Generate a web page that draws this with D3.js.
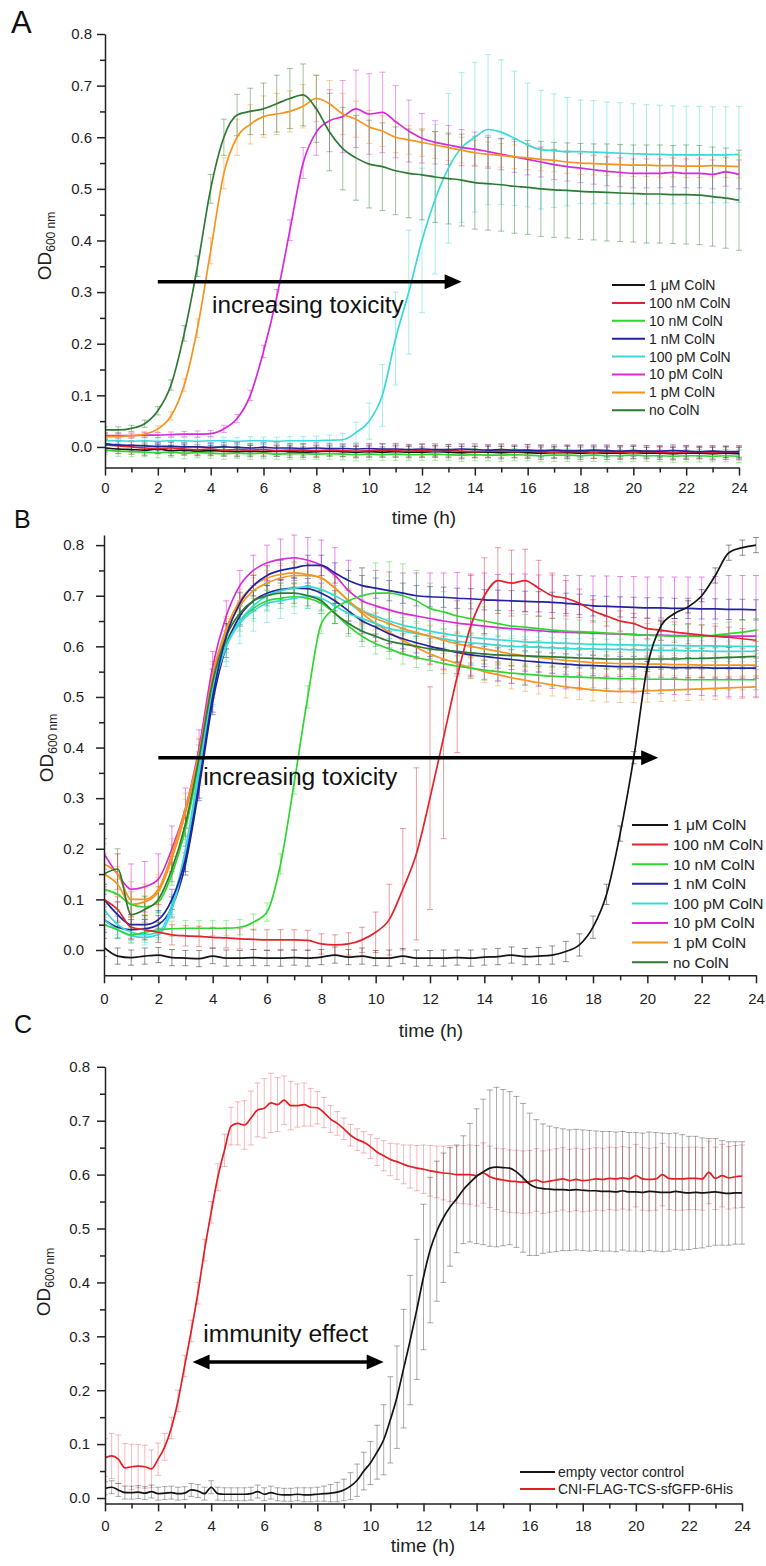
<!DOCTYPE html>
<html><head><meta charset="utf-8">
<script src="https://cdn.jsdelivr.net/npm/d3@7"></script>
<style>
body{margin:0;background:#fff}
svg{display:block;font-family:"Liberation Sans",Arial,Helvetica,sans-serif}
</style>
</head><body>
<svg id="c" width="766" height="1566"></svg>
<script>
// ---------------- DATA ----------------
const timeAB = [0,0.5,1,1.5,2,2.5,3,3.5,4,4.5,5,5.5,6,6.5,7,7.5,8,8.5,9,9.5,10,10.5,11,11.5,12,12.5,13,13.5,14,14.5,15,15.5,16,16.5,17,17.5,18,18.5,19,19.5,20,20.5,21,21.5,22,22.5,23,23.5,24];
const timeC = [0,0.25,0.5,0.75,1,1.25,1.5,1.75, 2,2.25,2.5,2.75,3,3.25,3.5,3.75, 4,4.25,4.5,4.75,5,5.25,5.5,5.75, 6,6.25,6.5,6.75,7,7.25,7.5,7.75, 8,8.25,8.5,8.75,9,9.25,9.5,9.75, 10,10.25,10.5,10.75,11,11.25,11.5,11.75, 12,12.25,12.5,12.75,13,13.25,13.5,13.75, 14,14.25,14.5,14.75,15,15.25,15.5,15.75, 16,16.25,16.5,16.75,17,17.25,17.5,17.75, 18,18.25,18.5,18.75,19,19.25,19.5,19.75, 20,20.25,20.5,20.75,21,21.25,21.5,21.75, 22,22.25,22.5,22.75,23,23.25,23.5,23.75, 24];

const colnLabels = ["1 \u03bcM ColN","100 nM ColN","10 nM ColN","1 nM ColN","100 pM ColN","10 pM ColN","1 pM ColN","no ColN"];
const panelCLabels = ["empty vector control","CNI-FLAG-TCS-sfGFP-6His"];
const xTicks = [0,2,4,6,8,10,12,14,16,18,20,22,24];
const xMinorTicks = [1,3,5,7,9,11,13,15,17,19,21,23];
const yTicks = [0,0.1,0.2,0.3,0.4,0.5,0.6,0.7,0.8];
const yMinorTicks = [0.05,0.15,0.25,0.35,0.45,0.55,0.65,0.75];

// ---- Panel A (means / sd) ----
const A_1uM = [-0.002,-0.004,-0.005,-0.006,-0.004,-0.007,-0.006,-0.008,-0.007,-0.008,
 -0.009,-0.008,-0.009,-0.008,-0.009,-0.010,-0.009,-0.008,-0.009,-0.010,
 -0.009,-0.010,-0.009,-0.010,-0.010,-0.009,-0.010,-0.011,-0.010,-0.010,
 -0.011,-0.010,-0.011,-0.012,-0.011,-0.011,-0.012,-0.011,-0.012,-0.012,
 -0.011,-0.012,-0.012,-0.013,-0.012,-0.012,-0.013,-0.012,-0.013];
const A_1uM_sd = [0.008,0.009,0.009,0.010,0.009,0.010,0.010,0.009,0.010,0.010,
 0.010,0.011,0.010,0.010,0.011,0.010,0.011,0.010,0.010,0.011,
 0.011,0.010,0.011,0.011,0.010,0.011,0.011,0.012,0.011,0.011,
 0.012,0.011,0.011,0.012,0.011,0.012,0.012,0.011,0.012,0.012,
 0.012,0.011,0.012,0.012,0.012,0.011,0.012,0.012,0.012];
const A_100nM = [0.004,0.002,0.000,-0.002,-0.003,-0.002,-0.004,-0.005,-0.004,-0.006,
 -0.005,-0.006,-0.005,-0.007,-0.006,-0.006,-0.007,-0.006,-0.007,-0.008,
 -0.007,-0.006,-0.007,-0.008,-0.007,-0.008,-0.007,-0.008,-0.009,-0.008,
 -0.008,-0.009,-0.008,-0.009,-0.010,-0.009,-0.009,-0.010,-0.009,-0.010,
 -0.010,-0.009,-0.010,-0.011,-0.010,-0.010,-0.011,-0.010,-0.010];
const A_100nM_sd = [0.009,0.009,0.010,0.010,0.010,0.011,0.010,0.010,0.011,0.010,
 0.011,0.010,0.011,0.011,0.010,0.011,0.011,0.010,0.011,0.011,
 0.011,0.012,0.011,0.011,0.012,0.011,0.011,0.012,0.011,0.012,
 0.012,0.011,0.012,0.012,0.011,0.012,0.012,0.012,0.011,0.012,
 0.012,0.012,0.011,0.012,0.012,0.012,0.012,0.011,0.012];
const A_10nM = [-0.006,-0.008,-0.009,-0.010,-0.011,-0.010,-0.012,-0.011,-0.012,-0.013,
 -0.012,-0.013,-0.012,-0.014,-0.013,-0.013,-0.014,-0.013,-0.014,-0.015,
 -0.014,-0.015,-0.014,-0.015,-0.015,-0.014,-0.015,-0.016,-0.015,-0.016,
 -0.016,-0.015,-0.016,-0.017,-0.016,-0.016,-0.017,-0.016,-0.017,-0.017,
 -0.016,-0.017,-0.017,-0.018,-0.017,-0.017,-0.018,-0.017,-0.018];
const A_10nM_sd = [0.009,0.010,0.010,0.009,0.010,0.010,0.011,0.010,0.010,0.011,
 0.010,0.011,0.011,0.010,0.011,0.011,0.010,0.011,0.011,0.012,
 0.011,0.011,0.012,0.011,0.011,0.012,0.011,0.012,0.012,0.011,
 0.012,0.012,0.011,0.012,0.012,0.012,0.011,0.012,0.012,0.012,
 0.012,0.011,0.012,0.012,0.012,0.012,0.011,0.012,0.012];
const A_1nM = [0.006,0.004,0.003,0.002,0.001,0.001,0.000,0.000,-0.001,0.000,
 -0.001,-0.002,-0.001,-0.002,-0.002,-0.003,-0.002,-0.003,-0.003,-0.004,
 -0.003,-0.004,-0.004,-0.005,-0.004,-0.005,-0.005,-0.004,-0.005,-0.006,
 -0.005,-0.006,-0.006,-0.007,-0.006,-0.007,-0.007,-0.006,-0.007,-0.008,
 -0.007,-0.008,-0.008,-0.007,-0.008,-0.009,-0.008,-0.009,-0.009];
const A_1nM_sd = [0.008,0.008,0.009,0.009,0.008,0.009,0.009,0.010,0.009,0.009,
 0.010,0.009,0.010,0.010,0.009,0.010,0.010,0.010,0.009,0.010,
 0.010,0.010,0.011,0.010,0.010,0.011,0.010,0.010,0.011,0.010,
 0.011,0.010,0.011,0.011,0.010,0.011,0.011,0.010,0.011,0.011,
 0.011,0.010,0.011,0.011,0.011,0.010,0.011,0.011,0.011];
const A_100pM = [0.012,0.012,0.011,0.012,0.011,0.012,0.012,0.011,0.012,0.012,
 0.011,0.012,0.012,0.011,0.012,0.012,0.012,0.013,0.014,0.028,
 0.050,0.100,0.210,0.300,0.400,0.480,0.540,0.580,0.600,0.615,
 0.610,0.598,0.585,0.576,0.574,0.572,0.572,0.571,0.570,0.569,
 0.568,0.567,0.567,0.566,0.566,0.566,0.566,0.566,0.567];
const A_100pM_sd = [0.006,0.006,0.007,0.006,0.007,0.007,0.006,0.007,0.007,0.007,
 0.007,0.008,0.007,0.008,0.008,0.008,0.009,0.010,0.012,0.020,
 0.035,0.060,0.090,0.120,0.140,0.145,0.145,0.145,0.145,0.145,
 0.140,0.130,0.120,0.115,0.110,0.105,0.100,0.100,0.098,0.098,
 0.097,0.096,0.095,0.095,0.094,0.094,0.093,0.093,0.093];
const A_10pM = [0.022,0.022,0.022,0.023,0.023,0.024,0.025,0.025,0.026,0.035,
 0.055,0.100,0.185,0.290,0.420,0.550,0.610,0.632,0.640,0.655,
 0.645,0.648,0.630,0.612,0.598,0.590,0.585,0.580,0.577,0.572,
 0.567,0.562,0.557,0.552,0.547,0.543,0.540,0.537,0.534,0.532,
 0.530,0.530,0.530,0.532,0.530,0.530,0.528,0.533,0.528];
const A_10pM_sd = [0.005,0.005,0.005,0.005,0.005,0.005,0.005,0.006,0.006,0.007,
 0.008,0.010,0.012,0.015,0.020,0.030,0.045,0.060,0.070,0.075,
 0.078,0.078,0.070,0.060,0.048,0.042,0.038,0.035,0.033,0.032,
 0.030,0.030,0.030,0.029,0.029,0.028,0.028,0.028,0.028,0.028,
 0.028,0.028,0.028,0.028,0.028,0.028,0.028,0.028,0.028];
const A_1pM = [0.020,0.020,0.022,0.025,0.035,0.060,0.120,0.230,0.380,0.530,
 0.600,0.625,0.640,0.645,0.650,0.660,0.675,0.665,0.645,0.635,
 0.620,0.612,0.600,0.595,0.590,0.585,0.580,0.575,0.570,0.567,
 0.565,0.562,0.560,0.557,0.555,0.552,0.550,0.549,0.548,0.547,
 0.546,0.546,0.545,0.545,0.544,0.544,0.545,0.544,0.543];
const A_1pM_sd = [0.005,0.005,0.005,0.005,0.006,0.008,0.012,0.018,0.025,0.030,
 0.035,0.038,0.040,0.040,0.040,0.042,0.045,0.045,0.040,0.035,
 0.032,0.030,0.030,0.028,0.027,0.026,0.025,0.025,0.024,0.024,
 0.023,0.023,0.023,0.022,0.022,0.022,0.022,0.022,0.022,0.022,
 0.022,0.022,0.022,0.022,0.022,0.022,0.022,0.022,0.022];
const A_none = [0.033,0.033,0.036,0.045,0.070,0.120,0.220,0.350,0.500,0.600,
 0.643,0.650,0.655,0.665,0.675,0.682,0.655,0.610,0.578,0.560,
 0.548,0.543,0.535,0.530,0.527,0.523,0.520,0.517,0.512,0.510,
 0.508,0.505,0.503,0.500,0.498,0.497,0.495,0.494,0.493,0.492,
 0.491,0.490,0.490,0.489,0.489,0.488,0.485,0.482,0.478];
const A_none_sd = [0.006,0.006,0.006,0.007,0.008,0.010,0.015,0.020,0.028,0.035,
 0.040,0.045,0.050,0.055,0.058,0.060,0.065,0.075,0.080,0.082,
 0.085,0.085,0.085,0.086,0.087,0.088,0.088,0.089,0.090,0.090,
 0.090,0.091,0.091,0.092,0.092,0.092,0.093,0.093,0.094,0.094,
 0.094,0.095,0.095,0.095,0.096,0.096,0.096,0.097,0.097];

// ---- Panel B ----
const B_1uM = [0.005,-0.012,-0.015,-0.012,-0.010,-0.015,-0.016,-0.017,-0.012,-0.016,
 -0.016,-0.015,-0.016,-0.016,-0.015,-0.016,-0.014,-0.010,-0.014,-0.012,
 -0.016,-0.016,-0.012,-0.016,-0.016,-0.016,-0.015,-0.016,-0.014,-0.013,
 -0.010,-0.013,-0.012,-0.010,-0.003,0.010,0.045,0.110,0.230,0.380,
 0.560,0.640,0.665,0.678,0.700,0.740,0.785,0.795,0.800];
const B_1uM_sd = [0.018,0.016,0.015,0.016,0.015,0.016,0.015,0.016,0.015,0.016,
 0.015,0.016,0.015,0.016,0.015,0.016,0.015,0.016,0.015,0.016,
 0.015,0.016,0.015,0.016,0.015,0.016,0.015,0.016,0.016,0.016,
 0.016,0.016,0.017,0.018,0.020,0.022,0.022,0.020,0.015,0.012,
 0.010,0.010,0.010,0.012,0.012,0.015,0.015,0.015,0.015];
const B_100nM = [0.100,0.080,0.045,0.040,0.035,0.030,0.028,0.027,0.025,0.024,
 0.022,0.021,0.020,0.020,0.020,0.019,0.012,0.010,0.012,0.020,
 0.035,0.060,0.120,0.190,0.300,0.420,0.540,0.640,0.700,0.730,
 0.725,0.730,0.715,0.700,0.695,0.685,0.670,0.660,0.650,0.645,
 0.635,0.632,0.628,0.625,0.622,0.620,0.618,0.615,0.612];
const B_100nM_sd = [0.025,0.025,0.022,0.020,0.020,0.020,0.020,0.020,0.020,0.020,
 0.020,0.020,0.020,0.020,0.020,0.020,0.020,0.020,0.022,0.025,
 0.040,0.070,0.120,0.170,0.220,0.200,0.150,0.100,0.075,0.065,
 0.065,0.062,0.055,0.045,0.035,0.028,0.022,0.020,0.020,0.020,
 0.020,0.020,0.020,0.020,0.020,0.020,0.020,0.020,0.020];
const B_10nM = [0.050,0.040,0.030,0.035,0.040,0.042,0.043,0.043,0.043,0.043,
 0.045,0.055,0.075,0.170,0.330,0.500,0.645,0.675,0.690,0.700,
 0.705,0.705,0.700,0.690,0.675,0.668,0.660,0.655,0.650,0.645,
 0.640,0.638,0.635,0.632,0.630,0.629,0.628,0.626,0.625,0.623,
 0.622,0.621,0.620,0.620,0.620,0.622,0.625,0.628,0.632];
const B_10nM_sd = [0.015,0.015,0.015,0.015,0.015,0.015,0.015,0.015,0.015,0.015,
 0.015,0.016,0.018,0.020,0.022,0.022,0.020,0.030,0.045,0.055,
 0.060,0.062,0.063,0.060,0.050,0.040,0.035,0.030,0.028,0.026,
 0.025,0.025,0.024,0.024,0.024,0.023,0.023,0.023,0.023,0.023,
 0.023,0.023,0.023,0.023,0.023,0.023,0.023,0.023,0.023];
const B_1nM = [0.100,0.070,0.050,0.050,0.060,0.100,0.180,0.330,0.500,0.620,
 0.685,0.720,0.740,0.750,0.755,0.760,0.760,0.745,0.730,0.720,
 0.715,0.710,0.705,0.700,0.698,0.697,0.695,0.694,0.692,0.691,
 0.690,0.689,0.688,0.687,0.685,0.683,0.680,0.679,0.678,0.677,
 0.676,0.676,0.675,0.675,0.674,0.674,0.673,0.673,0.672];
const B_1nM_sd = [0.030,0.025,0.020,0.018,0.018,0.020,0.025,0.030,0.030,0.025,
 0.022,0.020,0.020,0.020,0.020,0.020,0.020,0.020,0.020,0.020,
 0.020,0.020,0.020,0.020,0.020,0.020,0.020,0.020,0.020,0.020,
 0.020,0.020,0.020,0.020,0.020,0.020,0.020,0.020,0.020,0.020,
 0.020,0.020,0.020,0.020,0.020,0.020,0.020,0.020,0.020];
const B_1nM_rep = [0.060,0.045,0.040,0.042,0.050,0.085,0.170,0.320,0.490,0.600,
 0.660,0.690,0.705,0.712,0.715,0.714,0.705,0.690,0.670,0.650,
 0.638,0.625,0.615,0.607,0.600,0.594,0.588,0.583,0.580,0.577,
 0.574,0.571,0.569,0.567,0.565,0.563,0.562,0.561,0.560,0.560,
 0.559,0.559,0.558,0.558,0.558,0.557,0.557,0.557,0.557];
const B_1nM_rep_sd = [0.025,0.022,0.020,0.018,0.018,0.020,0.022,0.025,0.025,0.022,
 0.020,0.020,0.020,0.020,0.020,0.020,0.020,0.020,0.020,0.020,
 0.020,0.020,0.020,0.020,0.020,0.020,0.020,0.020,0.020,0.020,
 0.020,0.020,0.020,0.020,0.020,0.020,0.020,0.020,0.020,0.020,
 0.020,0.020,0.020,0.020,0.020,0.020,0.020,0.020,0.020];
const B_100pM = [0.080,0.050,0.035,0.030,0.035,0.090,0.200,0.360,0.520,0.600,
 0.645,0.670,0.685,0.690,0.695,0.700,0.695,0.680,0.665,0.655,
 0.645,0.635,0.630,0.625,0.620,0.615,0.610,0.607,0.605,0.602,
 0.600,0.599,0.598,0.597,0.596,0.595,0.595,0.594,0.594,0.593,
 0.593,0.592,0.592,0.591,0.591,0.590,0.590,0.590,0.590];
const B_100pM_sd = [0.030,0.020,0.015,0.015,0.015,0.020,0.025,0.030,0.035,0.040,
 0.040,0.040,0.038,0.035,0.030,0.025,0.022,0.020,0.020,0.020,
 0.020,0.020,0.020,0.020,0.020,0.020,0.020,0.020,0.020,0.020,
 0.020,0.020,0.020,0.020,0.020,0.020,0.020,0.020,0.020,0.020,
 0.020,0.020,0.020,0.020,0.020,0.020,0.020,0.020,0.020];
const B_100pM_rep = [0.060,0.040,0.028,0.025,0.030,0.080,0.190,0.350,0.510,0.600,
 0.650,0.680,0.700,0.710,0.715,0.718,0.712,0.700,0.685,0.670,
 0.660,0.650,0.642,0.636,0.630,0.625,0.621,0.618,0.615,0.613,
 0.611,0.609,0.608,0.607,0.606,0.605,0.604,0.604,0.603,0.603,
 0.602,0.602,0.602,0.601,0.601,0.601,0.600,0.600,0.600];
const B_100pM_rep_sd = [0.020,0.018,0.015,0.015,0.015,0.018,0.022,0.025,0.028,0.030,
 0.030,0.030,0.028,0.025,0.022,0.020,0.020,0.020,0.020,0.020,
 0.020,0.020,0.020,0.020,0.020,0.020,0.020,0.020,0.020,0.020,
 0.020,0.020,0.020,0.020,0.020,0.020,0.020,0.020,0.020,0.020,
 0.020,0.020,0.020,0.020,0.020,0.020,0.020,0.020,0.020];
const B_10pM = [0.190,0.150,0.120,0.125,0.140,0.200,0.280,0.400,0.560,0.660,
 0.720,0.750,0.765,0.772,0.775,0.770,0.760,0.740,0.710,0.690,
 0.680,0.672,0.665,0.660,0.655,0.650,0.646,0.643,0.640,0.637,
 0.635,0.633,0.631,0.629,0.628,0.627,0.626,0.625,0.624,0.623,
 0.622,0.622,0.621,0.621,0.620,0.620,0.620,0.620,0.620];
const B_10pM_sd = [0.030,0.040,0.050,0.050,0.050,0.045,0.040,0.035,0.030,0.030,
 0.030,0.030,0.035,0.040,0.045,0.045,0.050,0.055,0.060,0.065,
 0.070,0.075,0.080,0.085,0.090,0.095,0.100,0.100,0.105,0.105,
 0.108,0.110,0.110,0.112,0.112,0.113,0.113,0.114,0.114,0.115,
 0.115,0.115,0.116,0.116,0.117,0.118,0.120,0.120,0.120];
const B_1pM = [0.170,0.150,0.100,0.100,0.120,0.190,0.280,0.390,0.540,0.630,
 0.680,0.710,0.725,0.735,0.740,0.740,0.735,0.715,0.690,0.670,
 0.655,0.645,0.635,0.627,0.620,0.612,0.605,0.600,0.595,0.590,
 0.585,0.581,0.578,0.575,0.572,0.570,0.568,0.567,0.566,0.566,
 0.565,0.565,0.564,0.564,0.563,0.563,0.563,0.563,0.563];
const B_1pM_sd = [0.040,0.040,0.035,0.030,0.030,0.030,0.030,0.028,0.025,0.025,
 0.025,0.025,0.025,0.025,0.025,0.025,0.025,0.025,0.024,0.023,
 0.022,0.022,0.022,0.022,0.022,0.022,0.022,0.022,0.022,0.022,
 0.022,0.022,0.022,0.022,0.022,0.022,0.022,0.022,0.022,0.022,
 0.022,0.022,0.022,0.022,0.022,0.022,0.022,0.022,0.022];
const B_1pM_rep = [0.150,0.130,0.090,0.095,0.115,0.180,0.270,0.390,0.545,0.635,
 0.690,0.720,0.735,0.742,0.745,0.742,0.735,0.715,0.690,0.665,
 0.645,0.628,0.612,0.598,0.585,0.575,0.566,0.558,0.550,0.544,
 0.538,0.533,0.528,0.524,0.520,0.517,0.514,0.512,0.511,0.511,
 0.512,0.513,0.514,0.515,0.516,0.517,0.518,0.519,0.520];
const B_1pM_rep_sd = [0.035,0.035,0.030,0.028,0.028,0.028,0.028,0.026,0.025,0.024,
 0.023,0.022,0.022,0.022,0.022,0.022,0.022,0.022,0.022,0.022,
 0.022,0.022,0.022,0.022,0.022,0.022,0.022,0.022,0.022,0.022,
 0.022,0.022,0.022,0.022,0.022,0.022,0.022,0.022,0.022,0.022,
 0.022,0.022,0.022,0.022,0.022,0.022,0.022,0.022,0.022];
const B_none = [0.150,0.160,0.070,0.080,0.100,0.160,0.250,0.380,0.530,0.620,
 0.665,0.690,0.700,0.705,0.705,0.700,0.690,0.665,0.645,0.630,
 0.620,0.610,0.605,0.600,0.595,0.592,0.590,0.587,0.585,0.583,
 0.582,0.581,0.580,0.579,0.578,0.577,0.576,0.575,0.575,0.575,
 0.575,0.575,0.575,0.576,0.576,0.577,0.578,0.579,0.580];
const B_none_sd = [0.040,0.040,0.030,0.025,0.025,0.025,0.025,0.025,0.025,0.025,
 0.022,0.020,0.020,0.020,0.020,0.020,0.020,0.020,0.020,0.020,
 0.020,0.020,0.020,0.020,0.020,0.020,0.020,0.020,0.020,0.020,
 0.020,0.020,0.020,0.020,0.020,0.020,0.020,0.020,0.020,0.020,
 0.020,0.020,0.020,0.020,0.020,0.020,0.020,0.020,0.020];
const B_none_rep = [0.120,0.110,0.090,0.085,0.095,0.150,0.240,0.370,0.520,0.610,
 0.650,0.675,0.690,0.695,0.698,0.695,0.685,0.665,0.640,0.620,
 0.605,0.595,0.585,0.578,0.572,0.566,0.561,0.557,0.553,0.550,
 0.547,0.545,0.543,0.541,0.540,0.539,0.538,0.537,0.536,0.536,
 0.535,0.535,0.535,0.534,0.534,0.534,0.534,0.534,0.534];
const B_none_rep_sd = [0.030,0.030,0.025,0.022,0.022,0.022,0.022,0.022,0.022,0.022,
 0.020,0.020,0.020,0.020,0.020,0.020,0.020,0.020,0.020,0.020,
 0.020,0.020,0.020,0.020,0.020,0.020,0.020,0.020,0.020,0.020,
 0.020,0.020,0.020,0.020,0.020,0.020,0.020,0.020,0.020,0.020,
 0.020,0.020,0.020,0.020,0.020,0.020,0.020,0.020,0.020];

// ---- Panel C ----
const C_empty = [0.018,0.020,0.015,0.010,0.010,0.011,0.009,0.012,
 0.008,0.009,0.010,0.008,0.009,0.015,0.013,0.008,
 0.020,0.008,0.007,0.007,0.007,0.007,0.008,0.012,
 0.007,0.010,0.007,0.006,0.006,0.007,0.006,0.006,
 0.007,0.008,0.009,0.011,0.015,0.022,0.033,0.050,
 0.065,0.085,0.108,0.145,0.187,0.240,0.293,0.350,
 0.410,0.460,0.495,0.520,0.540,0.555,0.572,0.585,
 0.597,0.605,0.612,0.614,0.613,0.612,0.605,0.594,
 0.582,0.576,0.574,0.573,0.572,0.572,0.571,0.572,
 0.571,0.570,0.570,0.569,0.569,0.568,0.570,0.568,
 0.568,0.567,0.569,0.568,0.567,0.567,0.569,0.567,
 0.566,0.567,0.566,0.567,0.568,0.566,0.565,0.566,
 0.566];
const C_empty_sd = [0.012,0.012,0.012,0.012,0.012,0.012,0.012,0.012,
 0.012,0.012,0.012,0.012,0.012,0.012,0.012,0.012,
 0.012,0.012,0.012,0.012,0.012,0.012,0.012,0.012,
 0.012,0.012,0.012,0.012,0.012,0.012,0.013,0.013,
 0.013,0.014,0.016,0.018,0.020,0.025,0.030,0.035,
 0.040,0.050,0.065,0.080,0.095,0.110,0.120,0.130,
 0.135,0.135,0.130,0.120,0.110,0.100,0.100,0.110,
 0.125,0.135,0.145,0.148,0.145,0.142,0.140,0.138,
 0.132,0.126,0.120,0.117,0.115,0.113,0.112,0.112,
 0.112,0.112,0.111,0.111,0.111,0.111,0.110,0.110,
 0.110,0.110,0.110,0.110,0.110,0.109,0.108,0.107,
 0.105,0.104,0.102,0.100,0.099,0.097,0.096,0.095,
 0.095];
const C_cni = [0.075,0.078,0.072,0.056,0.058,0.059,0.058,0.054,
 0.072,0.095,0.130,0.180,0.245,0.310,0.380,0.460,
 0.530,0.595,0.645,0.690,0.695,0.692,0.705,0.720,
 0.723,0.733,0.730,0.738,0.728,0.728,0.730,0.725,
 0.724,0.715,0.703,0.695,0.685,0.673,0.665,0.660,
 0.652,0.642,0.635,0.628,0.624,0.619,0.615,0.612,
 0.610,0.607,0.605,0.603,0.602,0.600,0.600,0.600,
 0.598,0.603,0.596,0.592,0.590,0.588,0.587,0.586,
 0.587,0.590,0.586,0.588,0.590,0.592,0.589,0.591,
 0.589,0.590,0.592,0.591,0.593,0.592,0.594,0.592,
 0.598,0.592,0.591,0.592,0.600,0.593,0.592,0.592,
 0.593,0.593,0.592,0.604,0.593,0.598,0.594,0.596,
 0.597];
const C_cni_sd = [0.035,0.042,0.045,0.045,0.042,0.040,0.040,0.035,
 0.030,0.025,0.020,0.020,0.020,0.020,0.020,0.020,
 0.020,0.025,0.030,0.035,0.040,0.045,0.050,0.050,
 0.055,0.055,0.050,0.045,0.045,0.040,0.040,0.035,
 0.030,0.028,0.025,0.022,0.020,0.020,0.020,0.020,
 0.022,0.025,0.028,0.030,0.033,0.036,0.040,0.042,
 0.045,0.047,0.048,0.050,0.052,0.053,0.054,0.055,
 0.056,0.056,0.057,0.057,0.058,0.058,0.058,0.058,
 0.058,0.058,0.058,0.058,0.058,0.058,0.058,0.058,
 0.058,0.058,0.058,0.058,0.058,0.058,0.058,0.058,
 0.058,0.058,0.058,0.058,0.058,0.058,0.058,0.058,
 0.058,0.058,0.058,0.058,0.058,0.058,0.058,0.058,
 0.058];

// ---------------- STYLE ----------------
const COL = {
  uM1:"#141414", nM100:"#e3232b", nM10:"#2fd62f", nM1:"#23239e",
  pM100:"#39d9d9", pM10:"#d92ad9", pM1:"#f7941d", none:"#2e7a33",
  empty:"#141414", cni:"#e01f26"
};
const legendKeys = ["uM1","nM100","nM10","nM1","pM100","pM10","pM1","none"];
const TXT = "#1e1e1e";

const svg = d3.select("#c");

function mk(t, v, sd, key, op) { return {t, v, sd, color: COL[key], op: op || 0.5}; }

const seriesA = [
  mk(timeAB, A_1uM, A_1uM_sd, "uM1"),
  mk(timeAB, A_100nM, A_100nM_sd, "nM100"),
  mk(timeAB, A_10nM, A_10nM_sd, "nM10"),
  mk(timeAB, A_1nM, A_1nM_sd, "nM1"),
  mk(timeAB, A_100pM, A_100pM_sd, "pM100"),
  mk(timeAB, A_10pM, A_10pM_sd, "pM10"),
  mk(timeAB, A_1pM, A_1pM_sd, "pM1"),
  mk(timeAB, A_none, A_none_sd, "none")
];
const seriesB = [
  mk(timeAB, B_1pM_rep, B_1pM_rep_sd, "pM1"),
  mk(timeAB, B_none_rep, B_none_rep_sd, "nM10"),
  mk(timeAB, B_1nM_rep, B_1nM_rep_sd, "nM1"),
  mk(timeAB, B_100pM_rep, B_100pM_rep_sd, "pM100"),
  mk(timeAB, B_10pM, B_10pM_sd, "pM10", 0.6),
  mk(timeAB, B_100pM, B_100pM_sd, "pM100"),
  mk(timeAB, B_1pM, B_1pM_sd, "pM1"),
  mk(timeAB, B_none, B_none_sd, "none"),
  mk(timeAB, B_1nM, B_1nM_sd, "nM1"),
  mk(timeAB, B_10nM, B_10nM_sd, "nM10"),
  mk(timeAB, B_100nM, B_100nM_sd, "nM100"),
  mk(timeAB, B_1uM, B_1uM_sd, "uM1")
];
const seriesC = [
  mk(timeC, C_cni, C_cni_sd, "cni", 0.34),
  mk(timeC, C_empty, C_empty_sd, "empty", 0.4)
];

function drawPanel(p) {
  const x = d3.scaleLinear().domain([0,24]).range([p.x0, p.x1]);
  const y = d3.scaleLinear().domain(p.yDom).range([p.yB, p.yT]);
  const g = svg.append("g");
  const cid = "clip" + p.id;
  svg.append("defs").append("clipPath").attr("id", cid)
    .append("rect").attr("x", p.x0).attr("y", p.yT - 20).attr("width", p.x1 - p.x0 + 6).attr("height", p.yB - p.yT + 20);
  const plot = g.append("g").attr("clip-path", `url(#${cid})`);

  // error bars
  p.series.forEach(s => {
    const eg = plot.append("g").attr("stroke", s.color).attr("stroke-opacity", s.op).attr("stroke-width", 0.9);
    s.t.forEach((t, i) => {
      const v = s.v[i], e = s.sd[i];
      if (v === undefined || e === undefined) return;
      const xx = x(t), y1 = y(v - e), y2 = y(v + e);
      eg.append("line").attr("x1", xx).attr("x2", xx).attr("y1", y1).attr("y2", y2);
      eg.append("line").attr("x1", xx - 3).attr("x2", xx + 3).attr("y1", y1).attr("y2", y1);
      eg.append("line").attr("x1", xx - 3).attr("x2", xx + 3).attr("y1", y2).attr("y2", y2);
    });
  });
  // mean lines
  const line = d3.line().x(d => x(d[0])).y(d => y(d[1])).curve(d3.curveMonotoneX);
  p.series.forEach(s => {
    plot.append("path").datum(s.t.map((t, i) => [t, s.v[i]]).filter(d => d[1] !== undefined))
      .attr("d", line).attr("fill", "none").attr("stroke", s.color).attr("stroke-width", 1.7)
      .attr("stroke-linejoin", "round");
  });

  // axes
  const styleAxis = sel => {
    sel.selectAll("path,line").attr("stroke", "#222").attr("stroke-width", 1.5);
    sel.selectAll("text").attr("fill", TXT).style("font-size", "15px")
      .style("font-family", '"Liberation Sans", Arial, sans-serif');
  };
  const ya = g.append("g").attr("transform", `translate(${p.x0},0)`)
    .call(d3.axisLeft(y).tickValues(yTicks).tickFormat(d3.format(".1f")).tickSize(8).tickSizeOuter(0).tickPadding(p.yPad));
  styleAxis(ya);
  const yam = g.append("g").attr("transform", `translate(${p.x0},0)`)
    .call(d3.axisLeft(y).tickValues(yMinorTicks).tickFormat("").tickSize(5).tickSizeOuter(0));
  yam.select(".domain").remove(); styleAxis(yam);
  const xa = g.append("g").attr("transform", `translate(0,${p.yB})`)
    .call(d3.axisBottom(x).tickValues(xTicks).tickFormat(d3.format("d")).tickSize(8).tickSizeOuter(0).tickPadding(p.xPad));
  styleAxis(xa);
  const xam = g.append("g").attr("transform", `translate(0,${p.yB})`)
    .call(d3.axisBottom(x).tickValues(xMinorTicks).tickFormat("").tickSize(5).tickSizeOuter(0));
  xam.select(".domain").remove(); styleAxis(xam);

  // axis titles
  svg.append("text").attr("x", p.xt[0]).attr("y", p.xt[1]).attr("text-anchor", "middle")
    .attr("fill", TXT).style("font-size", "19px").text("time (h)");
  const yl = svg.append("text").attr("transform", `translate(${p.yl[0]},${p.yl[1]}) rotate(-90)`)
    .attr("text-anchor", "middle").attr("fill", TXT);
  yl.append("tspan").style("font-size", "19px").text("OD");
  yl.append("tspan").style("font-size", "12px").attr("dy", 4).text("600 nm");

  // panel letter
  svg.append("text").attr("x", p.letter[0]).attr("y", p.letter[1]).attr("fill", "#111")
    .style("font-size", p.letter[2] + "px").text(p.id);

  // legend
  const lg = svg.append("g");
  p.legend.labels.forEach((lab, i) => {
    const yy = p.legend.y0 + i * p.legend.dy;
    lg.append("line").attr("x1", p.legend.x0).attr("x2", p.legend.x1).attr("y1", yy).attr("y2", yy)
      .attr("stroke", COL[p.legend.keys[i]]).attr("stroke-width", 2);
    lg.append("text").attr("x", p.legend.tx).attr("y", yy).attr("dy", "0.35em").attr("fill", TXT)
      .style("font-size", p.legend.fs + "px").text(lab);
  });

  // annotation
  const a = p.ann;
  const ay = y(a.v), ax1 = x(a.t0), ax2 = x(a.t1);
  const hl = 17, hw = 7.5;
  const ag = svg.append("g");
  ag.append("line").attr("x1", a.double ? ax1 + hl - 2 : ax1).attr("x2", ax2 - hl + 2)
    .attr("y1", ay).attr("y2", ay).attr("stroke", "#000").attr("stroke-width", 3.5);
  ag.append("path").attr("d", `M${ax2},${ay} L${ax2 - hl},${ay - hw} L${ax2 - hl},${ay + hw} Z`).attr("fill", "#000");
  if (a.double) ag.append("path").attr("d", `M${ax1},${ay} L${ax1 + hl},${ay - hw} L${ax1 + hl},${ay + hw} Z`).attr("fill", "#000");
  svg.append("text").attr("x", x(a.tt)).attr("y", y(a.vt)).attr("fill", "#111")
    .style("font-size", a.fs + "px").text(a.text);
}

drawPanel({
  id: "A", series: seriesA, x0: 105, x1: 739, yB: 467.6, yT: 34, yDom: [-0.04, 0.8],
  yPad: 5, xPad: 7, xt: [424, 524], yl: [51, 246], letter: [11, 33, 31],
  legend: {labels: colnLabels, keys: legendKeys, x0: 612, x1: 645, tx: 649, y0: 285, dy: 17.9, fs: 14},
  ann: {t0: 2, t1: 13.5, v: 0.32, tt: 4.05, vt: 0.26, text: "increasing toxicity", fs: 24.3}
});
drawPanel({
  id: "B", series: seriesB, x0: 104, x1: 756, yB: 975.3, yT: 535, yDom: [-0.05, 0.82],
  yPad: 12, xPad: 10, xt: [431, 1037], yl: [53, 748], letter: [14, 528, 25],
  legend: {labels: colnLabels, keys: legendKeys, x0: 632, x1: 668, tx: 673, y0: 825, dy: 19.6, fs: 15.5},
  ann: {t0: 2, t1: 20.4, v: 0.38, tt: 3.65, vt: 0.326, text: "increasing toxicity", fs: 24.6}
});
drawPanel({
  id: "C", series: seriesC, x0: 105, x1: 742, yB: 1503.4, yT: 1066.8, yDom: [-0.01, 0.8],
  yPad: 7, xPad: 9, xt: [423, 1552], yl: [50, 1282], letter: [14, 1033, 25],
  legend: {labels: panelCLabels, keys: ["empty","cni"], x0: 520, x1: 555, tx: 558, y0: 1472, dy: 17, fs: 14},
  ann: {t0: 3.3, t1: 10.5, v: 0.2525, tt: 3.7, vt: 0.289, text: "immunity effect", fs: 24.6, double: true}
});
</script>
</body></html>
